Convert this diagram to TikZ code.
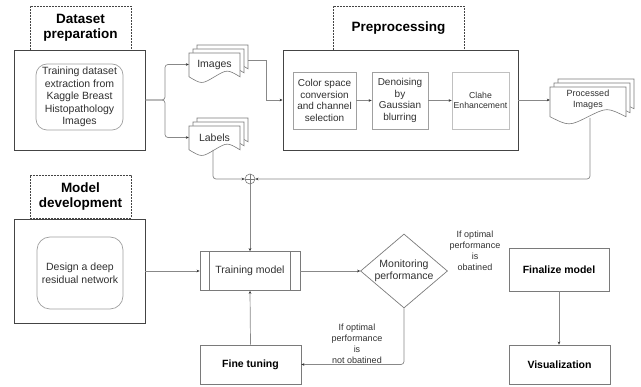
\documentclass[tikz,border=0pt]{standalone}
\usepackage{fontspec}
\setmainfont{Liberation Sans}
\usetikzlibrary{shapes.geometric,arrows.meta}
\definecolor{boxdark}{HTML}{444444}
\definecolor{boxmid}{HTML}{7A7A7A}
\definecolor{boxlight}{HTML}{A0A0A0}
\definecolor{boxpale}{HTML}{C0C0C0}
\definecolor{linec}{HTML}{888888}
\definecolor{txt}{HTML}{303030}
% document shape: top-left x, y, width, height (pixel units, y down)
\newcommand\mydoc[4]{%
  \filldraw[docsty] (#1,#2) -- ({#1+#3},#2) -- ({#1+#3},{#2+0.85*#4})
    .. controls ({#1+0.75*#3},{#2+0.58*#4}) .. ({#1+0.5*#3},{#2+0.85*#4})
    .. controls ({#1+0.25*#3},{#2+1.12*#4}) .. (#1,{#2+0.85*#4}) -- cycle;}
\begin{document}
\begin{tikzpicture}[x=1pt,y=-1pt,
  every node/.style={inner sep=0pt, text=txt},
  body/.style={font=\fontsize{10.5}{12.5}\selectfont, align=center},
  titlebox/.style={draw=boxdark, dash pattern=on 1.6pt off 1.4pt, line width=0.7pt,
    font=\bfseries\fontsize{13.5}{15.5}\selectfont, text=black, align=center},
  bigbox/.style={draw=boxdark, line width=0.9pt},
  roundbox/.style={draw=boxlight, line width=0.7pt, rounded corners=11pt, body},
  procbox/.style={draw=boxlight, line width=0.7pt, font=\fontsize{10}{11.7}\selectfont, align=center},
  stepbox/.style={draw=boxmid, line width=0.7pt, body},
  boldbox/.style={draw=boxmid, line width=0.7pt, font=\bfseries\fontsize{10.5}{12.5}\selectfont, text=black},
  conn/.style={draw=linec, line width=0.7pt, -{Stealth[length=3pt,width=2.6pt,color=black!80]}},
  docsty/.style={draw=boxmid, line width=0.6pt, fill=white},
  note/.style={font=\fontsize{9}{11}\selectfont, align=center}
]
\path[use as bounding box] (0,0) rectangle (641,387);

% Dataset preparation
\node[titlebox, minimum width=101pt, minimum height=44pt] (dtitle) at (80.5,28) {Dataset\\preparation};
\node[bigbox, minimum width=131pt, minimum height=100pt] (dbox) at (79.5,100) {};
\node[roundbox, minimum width=87pt, minimum height=66pt] (dinner) at (79.5,97)
  {Training dataset\\extraction from\\Kaggle Breast\\Histopathology\\Images};

% Preprocessing
\node[titlebox, minimum width=131pt, minimum height=44pt] (ptitle) at (398.5,28) {Preprocessing};
\node[bigbox, minimum width=235pt, minimum height=100pt] (pbox) at (400.5,100) {};
\node[procbox, minimum width=63pt, minimum height=57pt] (p1) at (324.5,100.5)
  {Color space\\conversion\\and channel\\selection};
\node[procbox, minimum width=56pt, minimum height=57pt] (p2) at (400,100.5)
  {Denoising\\by\\Gaussian\\blurring};
\node[procbox, draw=boxpale, minimum width=57pt, minimum height=57pt,
  font=\fontsize{8.7}{10.5}\selectfont] (p3) at (480.5,100.5) {Clahe\\Enhancement};

% Model development
\node[titlebox, minimum width=101pt, minimum height=43pt] (mtitle) at (80.5,196.5) {Model\\development};
\node[bigbox, minimum width=131pt, minimum height=104pt] (mbox) at (79.5,271) {};
\node[roundbox, rounded corners=13pt, minimum width=86pt, minimum height=72pt] (minner) at (80,273)
  {Design a deep\\residual network};

% Documents
\mydoc{197}{45}{51}{28}
\mydoc{193}{49}{51}{28}
\mydoc{189}{53}{51}{28}
\node[body, minimum width=51pt, minimum height=22pt] (images) at (214.5,64.5) {Images};
\mydoc{197}{118}{51}{28}
\mydoc{193}{122}{51}{28}
\mydoc{189}{126}{51}{28}
\node[body, minimum width=51pt, minimum height=22pt] (labels) at (214.5,137.5) {Labels};
\mydoc{558}{79}{76}{35}
\mydoc{554}{83}{76}{35}
\mydoc{550}{87}{76}{35}
\node[font=\fontsize{9}{11}\selectfont, align=center, minimum width=76pt, minimum height=26pt] (pimg) at (588,100) {Processed\\Images};

% Plus junction
\node[circle, draw=boxmid, line width=0.6pt, minimum size=10pt] (plus) at (250,179) {};
\draw[boxmid, line width=0.6pt] (plus.north) -- (plus.south) (plus.west) -- (plus.east);

% Training loop
\node[stepbox, minimum width=100pt, minimum height=39pt] (train) at (250,271) {Training model};
\draw[boxmid, line width=0.7pt] ([xshift=10pt]train.north west) -- ([xshift=10pt]train.south west)
  ([xshift=-10pt]train.north east) -- ([xshift=-10pt]train.south east);
\node[diamond, aspect=1.18, draw=boxmid, line width=0.7pt, body, minimum width=87pt, minimum height=74pt] (mon) at (404,271)
  {Monitoring\\performance};
\node[boldbox, minimum width=101pt, minimum height=39pt] (fine) at (250.5,364.5) {Fine tuning};
\node[boldbox, minimum width=100pt, minimum height=43pt] (final) at (559,269.5) {Finalize model};
\node[boldbox, minimum width=101pt, minimum height=39pt] (vis) at (559.5,364.5) {Visualization};

\node[note] (n1) at (475,251) {If optimal\\performance\\is\\obatined};
\node[note] (n2) at (357,344) {If optimal\\performance\\is\\not obatined};

% Connectors
\coordinate (imgR) at (248,60);
\coordinate (lblB) at (213,150);
\coordinate (pimgB) at (590,118);
\coordinate (split) at (165,100);
\coordinate (bend) at (266,60);
\draw[conn, rounded corners=3pt] (dbox.east) -- (split) |- (images.west);
\draw[conn, rounded corners=3pt] (dbox.east) -- (split) |- (labels.west);
\draw[conn] (imgR) -- (bend) |- (pbox.west);
\draw[conn] (p1) -- (p2);
\draw[conn] (p2) -- (p3);
\draw[conn] (pbox.east) -- (pimg.west);
\draw[conn, rounded corners=3pt] (pimgB) |- (plus.east);
\draw[conn, rounded corners=3pt] (lblB) |- (plus.west);
\draw[conn] (plus.south) -- (train.north);
\draw[conn] (mbox.east) -- (train.west);
\draw[conn] (train.east) -- (mon.west);
\draw[conn, rounded corners=3pt] (mon.south) |- (fine.east);
\draw[conn] (fine.north) -- (train.south);
\draw[conn] (final.south) -- (final.south |- vis.north);
\end{tikzpicture}
\end{document}
